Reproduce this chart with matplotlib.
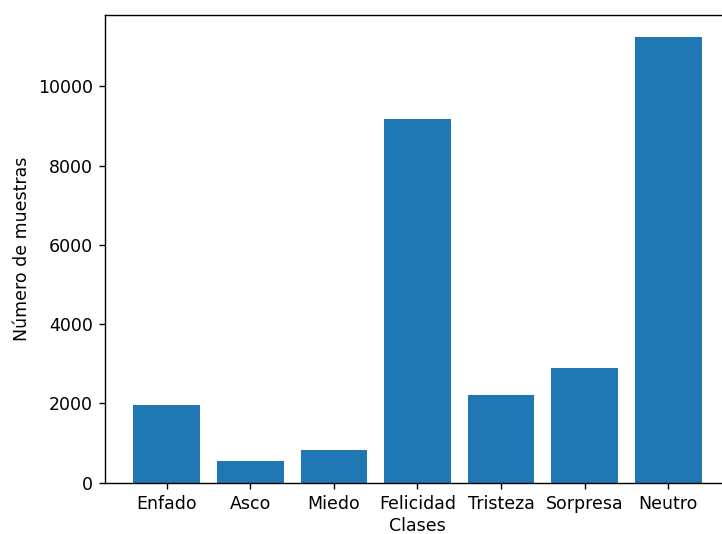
import matplotlib
matplotlib.use('Agg')
import matplotlib.pyplot as plt

clases = ['Enfado', 'Asco', 'Miedo', 'Felicidad', 'Tristeza', 'Sorpresa', 'Neutro']
muestras = [1965, 554, 814, 9169, 2217, 2897, 11249]

dpi = 125
fig = plt.figure(figsize=(722 / dpi, 534 / dpi), dpi=dpi)
# axes run slightly past the right edge, so the right spine is cut off
ax = fig.add_axes([105 / 722, 51.5 / 534, 625 / 722, 467.8 / 534])
ax.bar(clases, muestras, color='#1f77b4')
ax.set_xlabel('Clases', labelpad=2.5)
ax.set_ylabel('Número de muestras')
fig.savefig('out.png', dpi=dpi)
